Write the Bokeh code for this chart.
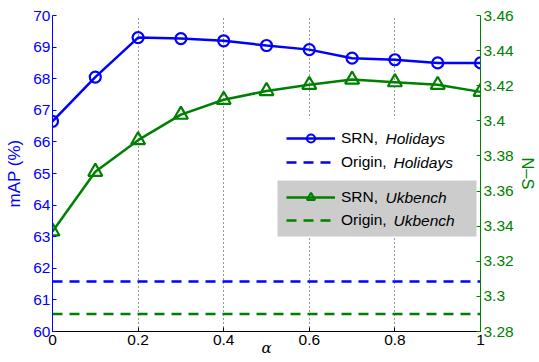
import math
from bokeh.plotting import figure
from bokeh.models import (Range1d, LinearAxis, FixedTicker, CustomJSTickFormatter,
                          Legend, LegendItem, Label, BoxAnnotation)
from bokeh.embed import file_html
from bokeh.resources import INLINE

alpha = [0.0, 0.1, 0.2, 0.3, 0.4, 0.5, 0.6, 0.7, 0.8, 0.9, 1.0]
srn_holidays = [66.65, 68.05, 69.30, 69.27, 69.20, 69.05, 68.92, 68.65, 68.60, 68.50, 68.50]
srn_ukbench = [3.337, 3.371, 3.389, 3.4035, 3.412, 3.417, 3.4205, 3.4235, 3.422, 3.4205, 3.4165]
origin_holidays = [61.58] * len(alpha)
origin_ukbench = [3.290] * len(alpha)

x_ticks = [0, 0.2, 0.4, 0.6, 0.8, 1.0]
left_ticks = [60, 61, 62, 63, 64, 65, 66, 67, 68, 69, 70]
right_ticks = [3.28, 3.30, 3.32, 3.34, 3.36, 3.38, 3.40, 3.42, 3.44, 3.46]

BLUE = "#0000ff"
GREEN = "#008000"
FONT = "Liberation Sans"
FS = "15.5px"

p = figure(width=539, height=362, output_backend="svg", toolbar_location=None,
           x_range=Range1d(0, 1), y_range=Range1d(60, 70),
           min_border_left=52, min_border_right=54, min_border_top=15, min_border_bottom=31)
p.extra_y_ranges = {"ns": Range1d(3.28, 3.46)}
p.outline_line_color = None
p.background_fill_color = "white"
p.border_fill_color = "white"

fmt = CustomJSTickFormatter(code="return String(Number(tick.toFixed(2)));")

# x axis
p.xaxis.ticker = FixedTicker(ticks=x_ticks)
p.xaxis.formatter = fmt
p.xaxis.major_tick_in = 4
p.xaxis.major_tick_out = 0
p.xaxis.minor_tick_line_color = None
p.xaxis.axis_line_color = "black"
p.xaxis.major_tick_line_color = "black"
p.xaxis.major_label_text_font = FONT
p.xaxis.major_label_text_font_size = FS
p.xaxis.major_label_text_color = "black"
p.xaxis.major_label_standoff = 3
p.xaxis.axis_label = "α"
p.xaxis.axis_label_text_font = "DejaVu Serif"
p.xaxis.axis_label_text_font_size = "15px"
p.xaxis.axis_label_text_font_style = "italic"
p.xaxis.axis_label_text_color = "black"
p.xaxis.axis_label_standoff = -9

# left axis
p.yaxis.ticker = FixedTicker(ticks=left_ticks)
p.yaxis.formatter = fmt
p.yaxis.major_tick_in = 4
p.yaxis.major_tick_out = 0
p.yaxis.minor_tick_line_color = None
p.yaxis.axis_line_color = BLUE
p.yaxis.major_tick_line_color = BLUE
p.yaxis.major_label_text_font = FONT
p.yaxis.major_label_text_font_size = FS
p.yaxis.major_label_text_color = BLUE
p.yaxis.major_label_standoff = 2
p.yaxis.axis_label = "mAP (%)"
p.yaxis.axis_label_text_font = FONT
p.yaxis.axis_label_text_font_size = "17px"
p.yaxis.axis_label_text_font_style = "normal"
p.yaxis.axis_label_text_color = BLUE
p.yaxis.axis_label_standoff = 6

# right axis
ra = LinearAxis(y_range_name="ns", ticker=FixedTicker(ticks=right_ticks), formatter=fmt,
                axis_label="N–S")
ra.major_tick_in = 4
ra.major_tick_out = 0
ra.minor_tick_line_color = None
ra.axis_line_color = GREEN
ra.major_tick_line_color = GREEN
ra.major_label_text_font = FONT
ra.major_label_text_font_size = FS
ra.major_label_text_color = GREEN
ra.major_label_standoff = 3
ra.axis_label_text_font = FONT
ra.axis_label_text_font_size = "16.5px"
ra.axis_label_text_font_style = "normal"
ra.axis_label_text_color = GREEN
ra.axis_label_standoff = 2
try:
    ra.axis_label_orientation = "vertical"
except Exception:
    pass
p.add_layout(ra, "right")

# grid
p.xgrid.ticker = FixedTicker(ticks=x_ticks)
p.xgrid.grid_line_color = "black"
p.xgrid.grid_line_dash = "1 3"
p.xgrid.grid_line_alpha = 0.8
p.ygrid.grid_line_color = None

# data
r_oh = p.line(alpha, origin_holidays, line_color=BLUE, line_width=2.5, line_dash="10 7")
r_ou = p.line(alpha, origin_ukbench, line_color=GREEN, line_width=2.5, line_dash="10 7",
              y_range_name="ns")
r_sh = p.line(alpha, srn_holidays, line_color=BLUE, line_width=2.5)
m_sh = p.scatter(alpha, srn_holidays, marker="circle", size=11, line_color=BLUE,
                 line_width=2.2, fill_color=None)
r_su = p.line(alpha, srn_ukbench, line_color=GREEN, line_width=2.5, y_range_name="ns")
m_su = p.scatter(alpha, srn_ukbench, marker="triangle", size=14, line_color=GREEN,
                 line_width=2.2, fill_color=None, y_range_name="ns")

# legend backgrounds
p.add_layout(BoxAnnotation(left=225, right=424, bottom=151, top=213,
                           left_units="screen", right_units="screen",
                           bottom_units="screen", top_units="screen",
                           fill_color="white", fill_alpha=1.0, line_color=None))
p.add_layout(BoxAnnotation(left=225, right=424, bottom=95, top=151,
                           left_units="screen", right_units="screen",
                           bottom_units="screen", top_units="screen",
                           fill_color="#cccccc", fill_alpha=1.0, line_color=None))

# legends
common = dict(orientation="vertical", glyph_width=49, glyph_height=20, label_height=20,
              label_standoff=6, padding=0, margin=0, border_line_color=None,
              background_fill_alpha=0.0, label_text_font=FONT, label_text_font_size=FS,
              label_text_color="black")
leg1 = Legend(items=[LegendItem(label="SRN,", renderers=[r_sh, m_sh]),
                     LegendItem(label="Origin,", renderers=[r_oh])],
              location=(234, 159), spacing=4, **common)
leg2 = Legend(items=[LegendItem(label="SRN,", renderers=[r_su, m_su]),
                     LegendItem(label="Origin,", renderers=[r_ou])],
              location=(234, 101), spacing=3, **common)
p.add_layout(leg1)
p.add_layout(leg2)

italic_labels = [("Holidays", 333, 193), ("Holidays", 341, 169),
                 ("Ukbench", 333, 134), ("Ukbench", 341, 111)]
for txt, sx, sy in italic_labels:
    p.add_layout(Label(x=sx, y=sy, x_units="screen", y_units="screen", text=txt,
                       text_font=FONT, text_font_size=FS, text_font_style="italic",
                       text_color="black", text_baseline="middle", text_align="left"))

open("out.html", "w").write(file_html(p, INLINE))
